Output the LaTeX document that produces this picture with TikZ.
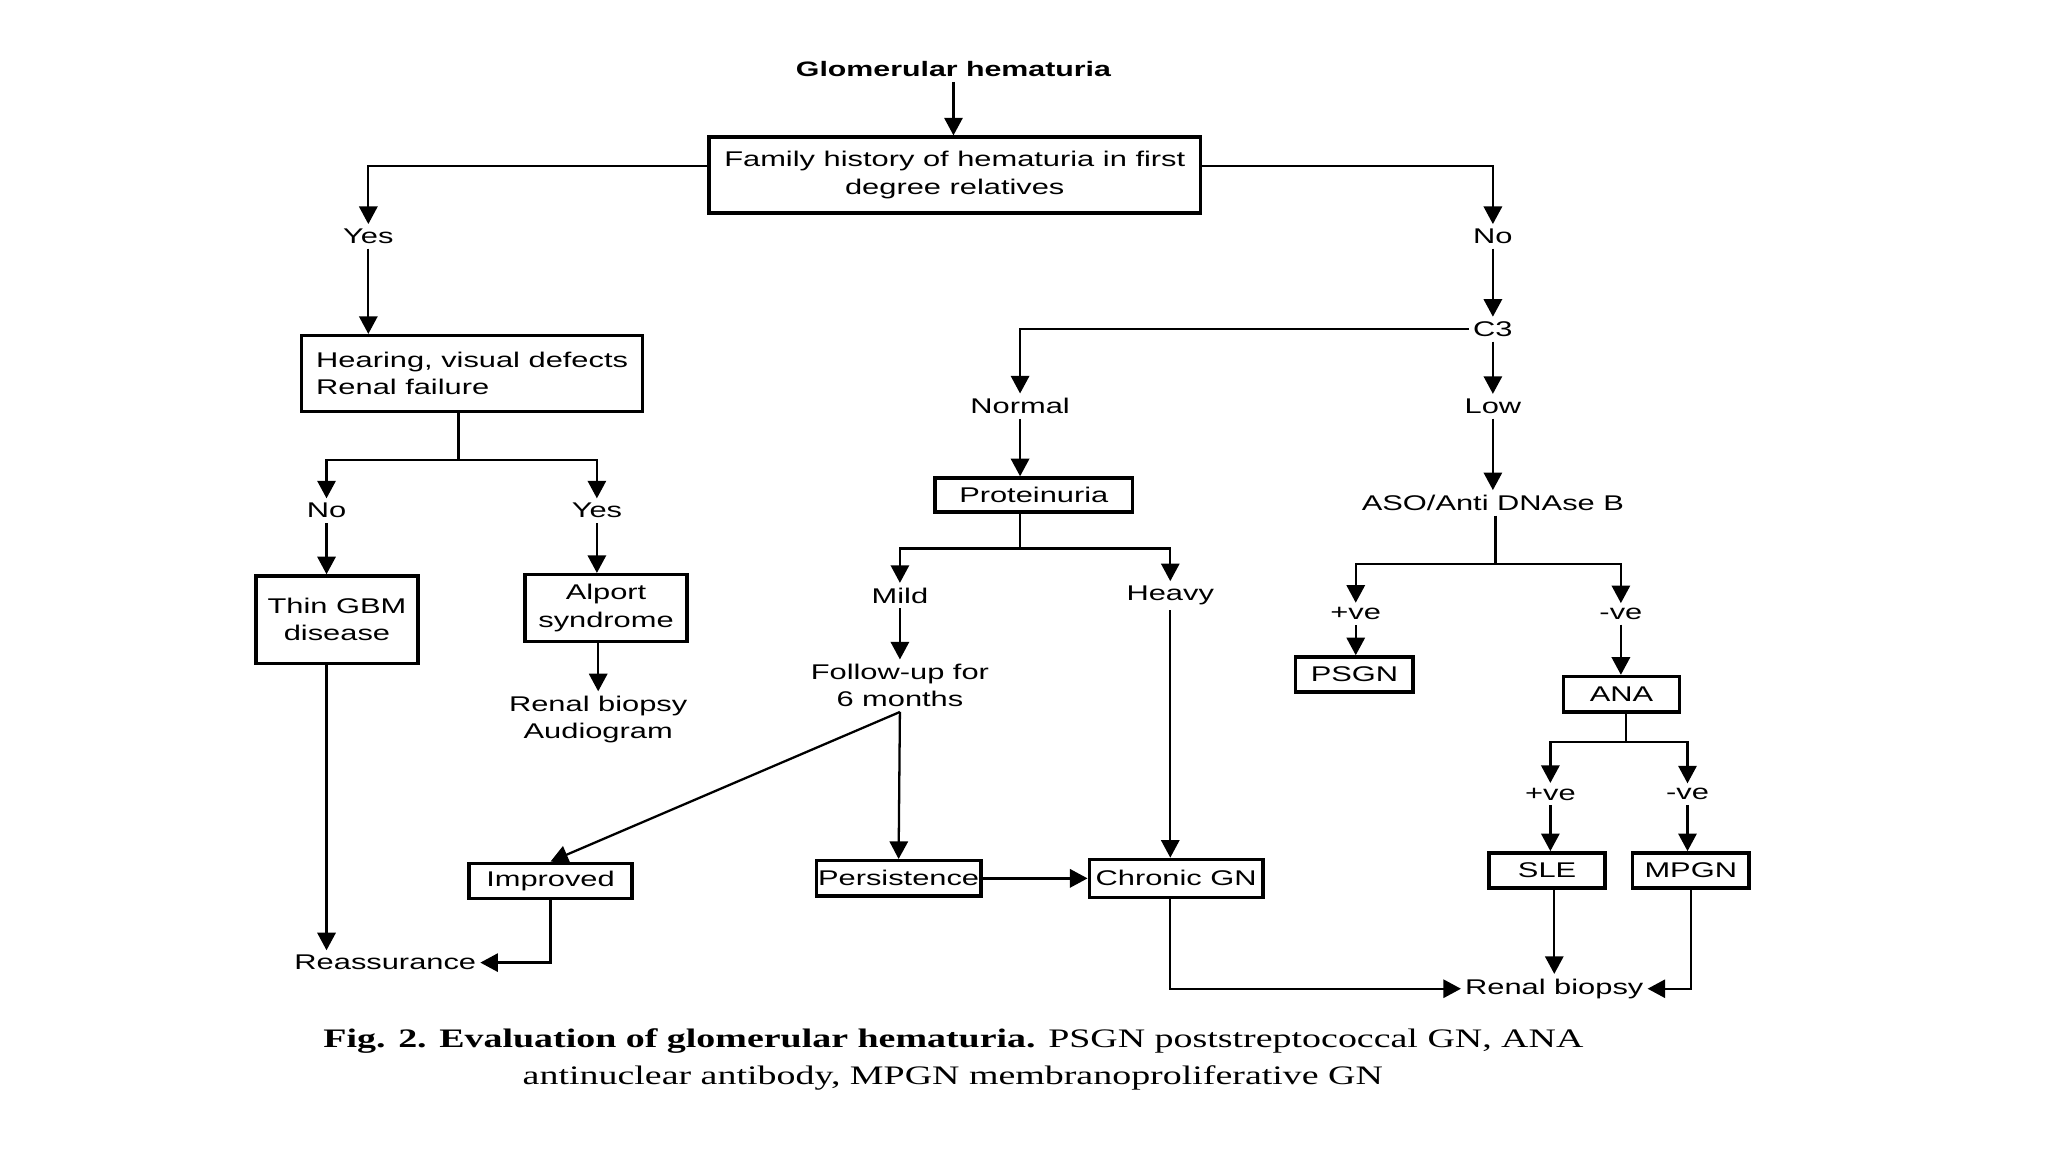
\documentclass[tikz,border=0pt]{standalone}
\usepackage{fontspec}
\setmainfont{Liberation Sans}[FakeStretch=1.45]
\newfontfamily\capfont{Liberation Serif}[FakeStretch=1.42]
\usetikzlibrary{arrows.meta,calc}
\begin{document}
\begin{tikzpicture}[x=0.013061cm,y=-0.013061cm,
  every node/.style={font=\fontsize{6.05}{7.7}\selectfont, inner sep=0pt},
  wh/.style 2 args={minimum width=#1*0.013061cm, minimum height=#2*0.013061cm},
  box/.style={draw, line width=1pt, align=center},
  lbl/.style={inner xsep=1pt, inner ysep=1.2pt, align=center},
  conn/.style={line width=0.65pt},
  arr/.style={conn, -{Triangle[width=5.2pt,length=5pt]}},
  capt/.style={font=\capfont\fontsize{7.6}{9}\selectfont},
]
\fill[white] (0,0) rectangle (1568,882);

% labels
\node[lbl, font=\fontsize{5.95}{7.43}\selectfont\bfseries] (gh) at (730,53) {Glomerular hematuria};
\node[lbl] (yes1) at (282,181) {Yes};
\node[lbl] (no1) at (1143,181) {No};
\node[lbl] (c3) at (1143,252) {C3};
\node[lbl] (normal) at (781,311) {Normal};
\node[lbl] (low) at (1143,311) {Low};
\node[lbl] (aso) at (1143,385) {ASO/Anti DNAse B};
\node[lbl] (no2) at (250,391) {No};
\node[lbl] (yes2) at (457,391) {Yes};
\node[lbl] (mild) at (689,456) {Mild};
\node[lbl] (heavy) at (896,456) {Heavy};
\node[lbl] (follow) at (689,525) {Follow-up for\\6 months};
\node[lbl] (rb1) at (458,551) {Renal biopsy\\Audiogram};
\node[lbl] (reass) at (295,737) {Reassurance};
\node[lbl] (rb2) at (1190,757) {Renal biopsy};
\node[lbl] (pos1) at (1038,470) {+ve};
\node[lbl] (neg1) at (1241,470) {-ve};
\node[lbl] (pos2) at (1187,608) {+ve};
\node[lbl] (neg2) at (1292,608) {-ve};

% boxes
\node[box, wh={376}{58}] (fam) at (731,134) {Family history of hematuria in first\\degree relatives};
\node[box, wh={261}{58}, align=left] (hear) at (361.5,286) {Hearing, visual defects\\Renal failure};
\node[box, wh={124}{67}] (thin) at (258,474.5) {Thin GBM\\disease};
\node[box, wh={124}{51}] (alport) at (464,465.5) {Alport\\syndrome};
\node[box, wh={151}{26}] (prot) at (791.5,379) {Proteinuria};
\node[box, wh={125}{27}] (improved) at (421.5,674.5) {Improved};
\node[box, wh={126}{27}] (persist) at (688,672.5) {Persistence};
\node[box, wh={133}{29}] (chronic) at (900.5,672.5) {Chronic GN};
\node[box, wh={90}{27}] (psgn) at (1037,516.5) {PSGN};
\node[box, wh={89}{27}] (ana) at (1241.5,531.5) {ANA};
\node[box, wh={89}{27}] (sle) at (1184.5,666.5) {SLE};
\node[box, wh={89}{27}] (mpgn) at (1294.5,666.5) {MPGN};

% caption
\node[capt] (cap1) at (730,797) {\textbf{Fig. 2. Evaluation of glomerular hematuria.} PSGN poststreptococcal GN, ANA};
\node[capt] (cap2) at (729.5,825) {antinuclear antibody, MPGN membranoproliferative GN};

% connectors
\draw[arr] (gh.south) -- (gh.south |- fam.north);
\draw[arr] ($(fam.west)+(0,-7)$) -| (yes1.north);
\draw[arr] (yes1.south) -- (yes1.south |- hear.north);
\draw[arr] ($(fam.east)+(0,-7)$) -| (no1.north);
\draw[arr] (no1.south) -- (c3.north);
\draw[arr] (c3.west) -| (normal.north);
\draw[arr] (c3.south) -- (low.north);
\draw[arr] (low.south) -- (aso.north);

\coordinate (hj) at (351,352);
\draw[conn] (hj |- hear.south) -- (hj);
\draw[arr] (hj) -| (no2.north);
\draw[arr] (hj) -| (yes2.north);
\draw[arr] (no2.south) -- (no2.south |- thin.north);
\draw[arr] (yes2.south) -- (yes2.south |- alport.north);
\draw[arr] (rb1.north |- alport.south) -- (rb1.north);
\draw[arr] (no2.south |- thin.south) -- (no2.south |- reass.north);
\draw[arr] (improved.south) |- (reass.east);

\draw[arr] (normal.south) -- (normal.south |- prot.north);
\coordinate (pj) at (781,420);
\draw[conn] (pj |- prot.south) -- (pj);
\draw[arr] (pj) -| (mild.north);
\draw[arr] (pj) -| (heavy.north);
\draw[arr] (mild.south) -- (follow.north);
\draw[arr] (follow.south) -- (improved.north);
\draw[arr] (follow.south) -- (persist.north);
\draw[arr] (persist.east) -- (chronic.west);
\draw[arr] (heavy.south) -- (heavy.south |- chronic.north);
\draw[arr] (heavy.south |- chronic.south) |- (rb2.west);

\coordinate (aj) at (1145,432);
\draw[conn] (aj |- aso.south) -- (aj);
\draw[arr] (aj) -| (pos1.north);
\draw[arr] (aj) -| (neg1.north);
\draw[arr] (pos1.south) -- (pos1.south |- psgn.north);
\draw[arr] (neg1.south) -- (neg1.south |- ana.north);
\coordinate (nj) at (1245,568);
\draw[conn] (nj |- ana.south) -- (nj);
\draw[arr] (nj) -| (pos2.north);
\draw[arr] (nj) -| (neg2.north);
\draw[arr] (pos2.south) -- (pos2.south |- sle.north);
\draw[arr] (neg2.south) -- (neg2.south |- mpgn.north);
\draw[arr] (rb2.north |- sle.south) -- (rb2.north);
\draw[arr] (mpgn.south) |- (rb2.east);
\end{tikzpicture}
\end{document}
